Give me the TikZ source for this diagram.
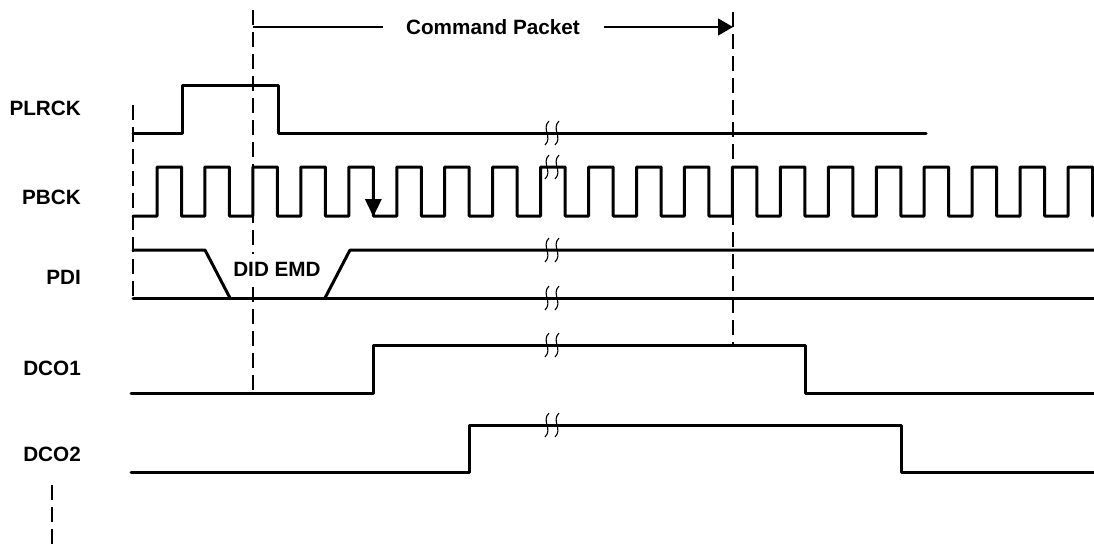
\documentclass[tikz,border=0pt]{standalone}
\usepackage{fontspec}
\setmainfont{Liberation Sans}
\usetikzlibrary{arrows.meta}
\begin{document}
\begin{tikzpicture}[x=1pt,y=-1pt,
  sig/.style={line width=3pt,line join=round,line cap=round},
  guide/.style={line width=1.2pt,dash pattern=on 15pt off 7pt},
  thinline/.style={line width=1.3pt},
  brk/.style={line width=1.1pt},
  lab/.style={font=\fontsize{20.7}{24}\selectfont\bfseries,anchor=east,inner sep=0pt},
  txt/.style={font=\fontsize{20.7}{24}\selectfont\bfseries,inner sep=0pt}]
\useasboundingbox (0,0) rectangle (1094,546);

% labels
\node[lab] (lplrck) at (81,108) {PLRCK};
\node[lab] (lpbck) at (81,197) {PBCK};
\node[lab] (lpdi) at (81,277) {PDI};
\node[lab] (ldco1) at (81,368) {DCO1};
\node[lab] (ldco2) at (81,454) {DCO2};

% guide lines
\draw[guide] (133,105) -- (133,298);
\draw[guide] (253,10) -- (253,254);
\draw[guide] (253,287) -- (253,393);
\draw[guide] (733,12) -- (733,345);
\draw[guide] (52,485) -- (52,546);

% command packet
\coordinate (cpa) at (253,27);
\coordinate (cpb) at (383,27);
\coordinate (cpc) at (604,27);
\coordinate (cpd) at (733,27);
\node[txt] (cp) at (493,27) {Command Packet};
\draw[thinline] (cpa) -- (cpb);
\draw[thinline,-{Triangle[length=15pt,width=17pt]}] (cpc) -- (cpd);

% PLRCK
\draw[sig] (133,133) -- (182,133) -- (182,85) -- (278,85) -- (278,133) -- (926,133);

% PBCK
\draw[sig] (133,216) -- (157,216)
  foreach \k in {0,...,18} { -- ({157+47.95*\k},167) -- ({181.5+47.95*\k},167) -- ({181.5+47.95*\k},216) -- ({157+47.95*(\k+1)},216) }
  -- (1068,167) -- (1092.5,167) -- (1092.5,216);
\fill (364.8,199) -- (381.8,199) -- (373.3,216.5) -- cycle;

% PDI
\draw[sig] (133,250) -- (205,250) -- (230,298);
\draw[sig] (133,298) -- (1094,298);
\draw[sig] (325,298) -- (350,250) -- (1094,250);
\node[txt,fill=white,inner sep=2pt] (did) at (277,269) {DID EMD};

% DCO1
\draw[sig] (131,393) -- (373,393) -- (373,345) -- (805,345) -- (805,393) -- (1094,393);
% DCO2
\draw[sig] (131,472) -- (469,472) -- (469,425) -- (901,425) -- (901,472) -- (1094,472);

% break marks
\foreach \y in {133,167,250,298,345,425}{
  \foreach \x in {547,557}{
    \draw[brk] ({\x+2},{\y-12}) .. controls ({\x-6},{\y-4}) and ({\x+6},{\y+4}) .. ({\x-2},{\y+12});
  }
}
\end{tikzpicture}
\end{document}
